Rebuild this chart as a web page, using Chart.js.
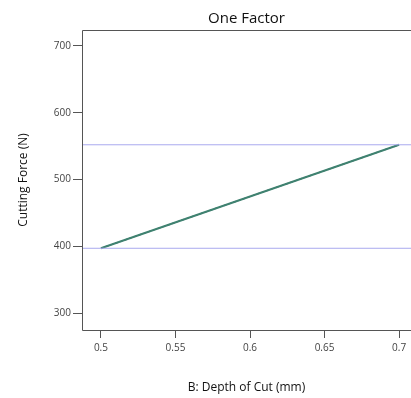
<!DOCTYPE html>
<html>
<head>
<meta charset="utf-8">
<script src="https://cdn.jsdelivr.net/npm/chart.js@4.4.0/dist/chart.umd.min.js"></script>
<style>
  html, body { margin: 0; padding: 0; background: #fff; }
  #wrap { width: 411px; height: 398px; }
</style>
</head>
<body>
<div id="wrap"><canvas id="oneFactor"></canvas></div>
<script>
  // depth of cut (mm) vs predicted cutting force (N)
  const depthOfCut = [0.5, 0.7];
  const cuttingForce = [397, 552];
  const xRange = [0.4873, 0.708];
  const yRange = [274.6, 723.9];
  const xTicks = [0.5, 0.55, 0.6, 0.65, 0.7];
  const yTicks = [300, 400, 500, 600, 700];
  // reference levels at the two ends of the factor range
  const lowLevel = 397;
  const highLevel = 552;

  const axisColor = '#555';
  Chart.defaults.font.family = "'Open Sans', sans-serif";

  // left, top and bottom frame of the plot
  const frame = {
    id: 'frame',
    afterDraw(chart) {
      const { ctx, chartArea: a } = chart;
      ctx.save();
      ctx.strokeStyle = axisColor;
      ctx.lineWidth = 1;
      ctx.beginPath();
      ctx.moveTo(a.right + 1, a.top + 0.5);
      ctx.lineTo(a.left + 0.5, a.top + 0.5);
      ctx.lineTo(a.left + 0.5, a.bottom + 0.5);
      ctx.lineTo(a.right + 1, a.bottom + 0.5);
      ctx.stroke();
      ctx.restore();
    }
  };

  const ctx = document.getElementById('oneFactor').getContext('2d');

  const chart = new Chart(ctx, {
    type: 'line',
    data: {
      datasets: [
        {
          data: xRange.map(x => ({ x: x, y: highLevel })),
          borderColor: '#a9a9ef',
          borderWidth: 1,
          pointRadius: 0
        },
        {
          data: xRange.map(x => ({ x: x, y: lowLevel })),
          borderColor: '#a9a9ef',
          borderWidth: 1,
          pointRadius: 0
        },
        {
          data: depthOfCut.map((x, i) => ({ x: x, y: cuttingForce[i] })),
          borderColor: '#3f8270',
          borderWidth: 2,
          pointRadius: 0
        },
        {
          data: depthOfCut.map((x, i) => ({ x: x, y: cuttingForce[i] })),
          borderColor: '#2a4a60',
          borderWidth: 1.2,
          borderDash: [3, 2],
          pointRadius: 0
        }
      ]
    },
    options: {
      responsive: true,
      maintainAspectRatio: false,
      animation: false,
      layout: { padding: { left: 0, right: 0, top: 0, bottom: 0 } },
      plugins: {
        legend: { display: false },
        tooltip: { enabled: false },
        title: {
          display: true,
          text: 'One Factor',
          fullSize: false,
          color: '#111',
          font: { size: 15, weight: 'normal' },
          padding: { top: 10, bottom: 2 }
        }
      },
      scales: {
        x: {
          type: 'linear',
          min: xRange[0],
          max: xRange[1],
          afterBuildTicks: s => { s.ticks = xTicks.map(v => ({ value: v })); },
          afterFit: s => { s.height = 68; },
          border: { display: false },
          grid: { drawOnChartArea: false, color: axisColor, tickColor: axisColor, tickLength: 8 },
          ticks: {
            color: '#444',
            font: { size: 10 },
            padding: 4,
            maxRotation: 0,
            callback: v => String(v)
          },
          title: {
            display: true,
            text: 'B: Depth of Cut (mm)',
            color: '#111',
            font: { size: 12 },
            padding: { top: 0, bottom: 3 }
          }
        },
        y: {
          min: yRange[0],
          max: yRange[1],
          afterBuildTicks: s => { s.ticks = yTicks.map(v => ({ value: v })); },
          afterFit: s => { s.width = 82; },
          border: { display: false },
          grid: { drawOnChartArea: false, color: axisColor, tickColor: axisColor, tickLength: 9 },
          ticks: { color: '#444', font: { size: 10 }, padding: 2 },
          title: {
            display: true,
            text: 'Cutting Force (N)',
            color: '#111',
            font: { size: 12 },
            padding: { top: 16, bottom: 0 }
          }
        }
      }
    },
    plugins: [frame]
  });
</script>
</body>
</html>
